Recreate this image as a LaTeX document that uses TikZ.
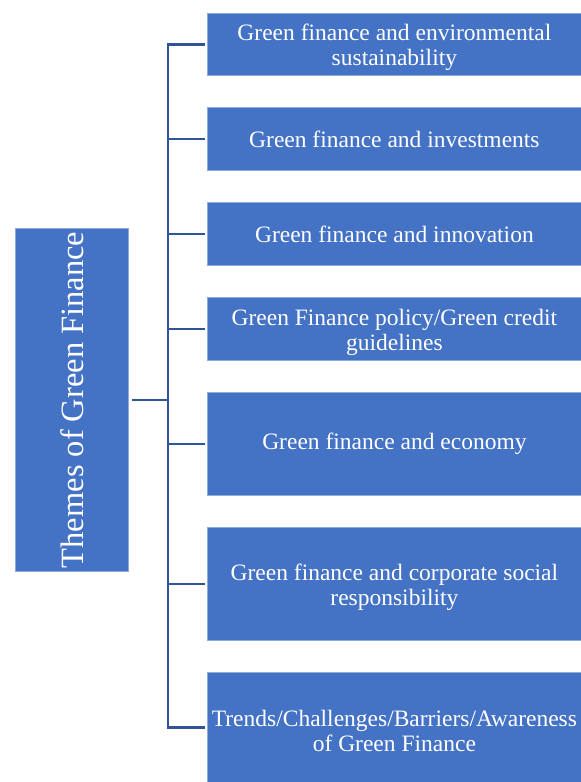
\documentclass[tikz,border=0pt]{standalone}
\usepackage{fontspec}
\setmainfont{Liberation Serif}
\usepackage{graphicx}
\definecolor{boxblue}{HTML}{4472C4}
\definecolor{edgeblue}{HTML}{8FAADC}
\definecolor{linkblue}{HTML}{2F5597}
\newcommand{\toppad}{\rule{0pt}{23pt}}
\tikzset{
  themebox/.style={rectangle, fill=boxblue, draw=edgeblue, line width=0.8pt,
    text=white, align=center, inner sep=0pt, anchor=north west,
    font=\fontsize{23.5}{25}\selectfont},
  rootbox/.style={rectangle, fill=boxblue, draw=edgeblue, line width=0.8pt,
    text=white, inner sep=0pt, anchor=north west,
    font=\fontsize{32.5}{34}\selectfont},
  link/.style={draw=linkblue, line width=2.5pt}
}
\begin{document}
\begin{tikzpicture}[x=1pt, y=-1pt]
\useasboundingbox (0,0) rectangle (581,782);
\node[rootbox, minimum width=113pt, minimum height=343pt] (L) at (15,228) {\rotatebox{90}{Themes of Green Finance}};
\node[themebox, minimum width=374pt, minimum height=62pt] (b1) at (207,13) {\toppad Green finance and environmental\\sustainability};
\node[themebox, minimum width=374pt, minimum height=63pt] (b2) at (207,107) {Green finance and investments};
\node[themebox, minimum width=374pt, minimum height=63pt] (b3) at (207,202) {Green finance and innovation};
\node[themebox, minimum width=374pt, minimum height=63pt] (b4) at (207,297) {\toppad Green Finance policy/Green credit\\guidelines};
\node[themebox, minimum width=374pt, minimum height=103pt] (b5) at (207,392) {Green finance and economy};
\node[themebox, minimum width=374pt, minimum height=113pt] (b6) at (207,527) {\toppad Green finance and corporate social\\responsibility};
\node[themebox, minimum width=374pt, minimum height=110pt] (b7) at (207,672) {\toppad Trends/Challenges/Barriers/Awareness\\of Green Finance};
\coordinate (t) at (168,0);
\draw[link] ([xshift=-2pt]b1.west) -- (t |- b1.west) -- (t |- b7.west) -- ([xshift=-2pt]b7.west);
\foreach \b in {b2,b3,b4,b5,b6}{
  \draw[link] (t |- \b.west) -- ([xshift=-2pt]\b.west);
}
\draw[link] ([xshift=3pt]L.east) -- (t |- L.east);
\end{tikzpicture}
\end{document}
